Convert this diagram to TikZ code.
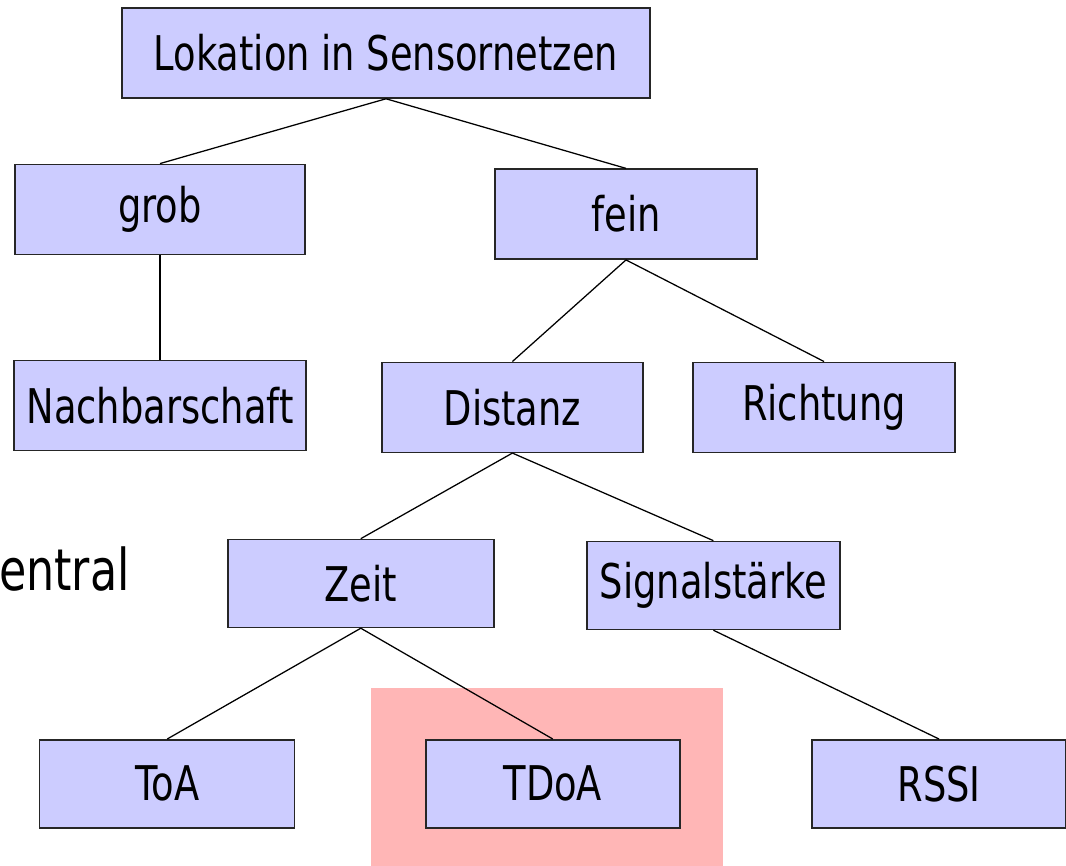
\documentclass[tikz,border=0pt]{standalone}
\usepackage{fontspec}
\setmainfont[FakeStretch=0.77]{DejaVu Sans}
\usetikzlibrary{positioning,calc,backgrounds}

\definecolor{boxblue}{RGB}{204,204,255}
\definecolor{hilitered}{RGB}{255,182,182}

\begin{document}
\begin{tikzpicture}[
    every node/.style={
        font=\fontsize{34}{38}\selectfont,
        align=center
    },
    catbox/.style={
        draw=black!85,
        fill=boxblue,
        line width=1.1pt,
        minimum height=2.25cm,
        inner sep=0pt
    },
    leafbox/.style={
        catbox,
        minimum height=2.2cm
    },
    hilite/.style={
        fill=hilitered
    },
    connector/.style={
        draw=black,
        line width=0.9pt
    }
]

\useasboundingbox (0,0) rectangle (26.65,-21.625);

% ============================================================
% Root
% ============================================================

\node[catbox, minimum width=13.2cm] (root) at (9.65,-1.325)
{Lokation in Sensornetzen};

% ============================================================
% Coarse / fine
% ============================================================

\node[catbox, minimum width=7.25cm,
      below=1.62cm of root, xshift=-5.65cm]
(grob)
{grob};

\node[catbox, minimum width=6.55cm,
      below=1.74cm of root, xshift=6cm]
(fein)
{fein};

\draw[connector] (root.south) -- (grob.north);
\draw[connector] (root.south) -- (fein.north);

\node[catbox, minimum width=7.3cm, below=2.61cm of grob]
(nachbar)
{Nachbarschaft};

\draw[connector] (grob.south) -- (nachbar.north);

% ============================================================
% Fine localisation
% ============================================================

\node[catbox, minimum width=6.525cm,
      below=2.54cm of fein, xshift=-2.84cm]
(distanz)
{Distanz};

\node[catbox, minimum width=6.55cm,
      below=2.54cm of fein, xshift=4.95cm]
(richtung)
{Richtung};

\draw[connector] (fein.south) -- (distanz.north);
\draw[connector] (fein.south) -- (richtung.north);

\node[leafbox, minimum width=6.65cm,
      below=2.14cm of distanz, xshift=-3.79cm]
(zeit)
{Zeit};

\node[leafbox, minimum width=6.325cm,
      below=2.19cm of distanz, xshift=5.025cm]
(signal)
{Signalstärke};

\draw[connector] (distanz.south) -- (zeit.north);
\draw[connector] (distanz.south) -- (signal.north);

% ============================================================
% Measurement methods
% ============================================================

\node[leafbox, minimum width=6.375cm,
      below=2.77cm of zeit, xshift=-4.84cm]
(toa)
{ToA};

\node[leafbox, minimum width=6.35cm,
      below=2.77cm of zeit, xshift=4.8cm]
(tdoa)
{TDoA};

\node[leafbox, minimum width=6.35cm,
      below=2.72cm of signal, xshift=5.64cm]
(rssi)
{RSSI};

\draw[connector] (zeit.south) -- (toa.north);
\draw[connector] (zeit.south) -- (tdoa.north);
\draw[connector] (signal.south) -- (rssi.north);

% highlight behind TDoA
\begin{scope}[on background layer]
\fill[hilite]
    ($(tdoa.center)+(-4.55,2.4)$) rectangle ($(tdoa.center)+(4.25,-2.05)$);
\end{scope}

% leftover slide text
\node[anchor=base east, inner sep=0pt,
      font=\fontsize{41}{46}\selectfont]
(zentral) at (3.25,-14.75)
{entral};

\end{tikzpicture}
\end{document}
